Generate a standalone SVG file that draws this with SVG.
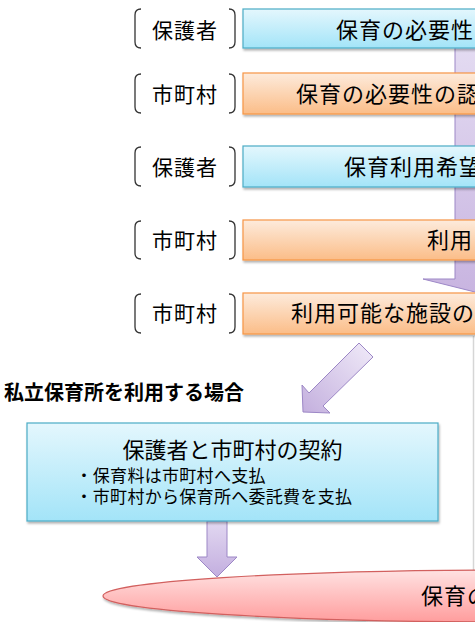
<svg xmlns="http://www.w3.org/2000/svg" width="475" height="622" viewBox="0 0 475 622">
<defs>
<style>
text{font-family:"Noto Sans CJK JP","Noto Sans CJK SC",sans-serif;fill:#000}
.lbl{font-size:21px;letter-spacing:1px}
.bt{font-size:22px;letter-spacing:1px}
.blue{fill:url(#gBlue);stroke:#4bacc6;stroke-width:1.2;filter:url(#sh)}
.orange{fill:url(#gOrange);stroke:#f79646;stroke-width:1.2;filter:url(#sh)}
.brk{fill:none;stroke:#333;stroke-width:1.3}
.arrow{stroke:#9c87c6;stroke-width:1}
</style>
<linearGradient id="gBlue" x1="0" y1="0" x2="0" y2="1"><stop offset="0" stop-color="#e4f7fd"/><stop offset="1" stop-color="#a3e4f8"/></linearGradient>
<linearGradient id="gOrange" x1="0" y1="0" x2="0" y2="1"><stop offset="0" stop-color="#fdebdc"/><stop offset="1" stop-color="#fbbd88"/></linearGradient>
<linearGradient id="gShaft" x1="0" y1="0" x2="0" y2="1"><stop offset="0" stop-color="#e4dcf2"/><stop offset="1" stop-color="#c8b4e0"/></linearGradient>
<linearGradient id="gDiag" gradientUnits="userSpaceOnUse" x1="366" y1="350" x2="303" y2="412"><stop offset="0" stop-color="#ece5f6"/><stop offset="1" stop-color="#c4b0de"/></linearGradient>
<linearGradient id="gDown" x1="0" y1="0" x2="0" y2="1"><stop offset="0" stop-color="#e2d8f1"/><stop offset="1" stop-color="#c3aedf"/></linearGradient>
<linearGradient id="gRed" x1="0" y1="0" x2="0" y2="1"><stop offset="0" stop-color="#ffe2e2"/><stop offset="1" stop-color="#ff9d9d"/></linearGradient>
<filter id="sh" x="-5%" y="-20%" width="110%" height="150%"><feDropShadow dx="1" dy="2" stdDeviation="1.2" flood-color="#000" flood-opacity="0.3"/></filter>
</defs>
<rect width="475" height="622" fill="#fff"/>

<g id="connectors">
<path class="arrow" fill="url(#gShaft)" d="M455 40 H560 V279 H580 L491 296 L423 279 H455 Z"/>
<line x1="473.5" y1="336" x2="473.5" y2="572" stroke="#d6d6d6" stroke-width="1.5"/>
<polygon class="arrow" fill="url(#gDiag)" points="359,343 309,393 302,385 303,412 330,413 323,406 373,357"/>
<polygon class="arrow" fill="url(#gDown)" points="207,521 227,521 227,557 237,557 217,577 197,557 207,557"/>
</g>

<g id="row1">
<path class="brk" d="M141 9 Q135 9 135 15 V42 Q135 48 141 48 M229 9 Q235 9 235 15 V42 Q235 48 229 48"/>
<text class="lbl" x="185" y="38" text-anchor="middle">保護者</text>
<rect class="blue" x="243" y="9" width="500" height="39"/>
<text class="bt" x="336" y="38">保育の必要性</text>
</g>

<g id="row2">
<path class="brk" d="M141 74 Q135 74 135 80 V107 Q135 113 141 113 M229 74 Q235 74 235 80 V107 Q235 113 229 113"/>
<text class="lbl" x="185" y="102" text-anchor="middle">市町村</text>
<rect class="orange" x="243" y="73" width="500" height="41"/>
<text class="bt" x="296" y="102">保育の必要性の認</text>
</g>

<g id="row3">
<path class="brk" d="M141 147 Q135 147 135 153 V180 Q135 186 141 186 M229 147 Q235 147 235 153 V180 Q235 186 229 186"/>
<text class="lbl" x="185" y="175" text-anchor="middle">保護者</text>
<rect class="blue" x="243" y="146" width="500" height="41"/>
<text class="bt" x="344" y="175">保育利用希望</text>
</g>

<g id="row4">
<path class="brk" d="M141 221 Q135 221 135 227 V253 Q135 259 141 259 M229 221 Q235 221 235 227 V253 Q235 259 229 259"/>
<text class="lbl" x="185" y="248" text-anchor="middle">市町村</text>
<rect class="orange" x="243" y="220" width="500" height="40"/>
<text class="bt" x="427" y="248">利用</text>
</g>

<g id="row5">
<path class="brk" d="M141 294 Q135 294 135 300 V327 Q135 333 141 333 M229 294 Q235 294 235 300 V327 Q235 333 229 333"/>
<text class="lbl" x="185" y="321" text-anchor="middle">市町村</text>
<rect class="orange" x="243" y="293" width="500" height="41"/>
<text class="bt" x="291" y="321">利用可能な施設の</text>
</g>

<g id="heading">
<text x="4" y="400" font-size="20" font-weight="bold">私立保育所を利用する場合</text>
</g>

<g id="contract">
<rect class="blue" x="27" y="423" width="411" height="98"/>
<text x="232.5" y="458" font-size="22" text-anchor="middle">保護者と市町村の契約</text>
<text x="75.5" y="482" font-size="17" letter-spacing="0.3">・保育料は市町村へ支払</text>
<text x="75.5" y="503" font-size="17" letter-spacing="0.3">・市町村から保育所へ委託費を支払</text>
</g>

<g id="result">
<ellipse cx="513" cy="596" rx="410" ry="26" fill="url(#gRed)" stroke="#d2605e" stroke-width="1.2" filter="url(#sh)"/>
<text class="bt" x="421" y="604">保育の</text>
</g>
</svg>
